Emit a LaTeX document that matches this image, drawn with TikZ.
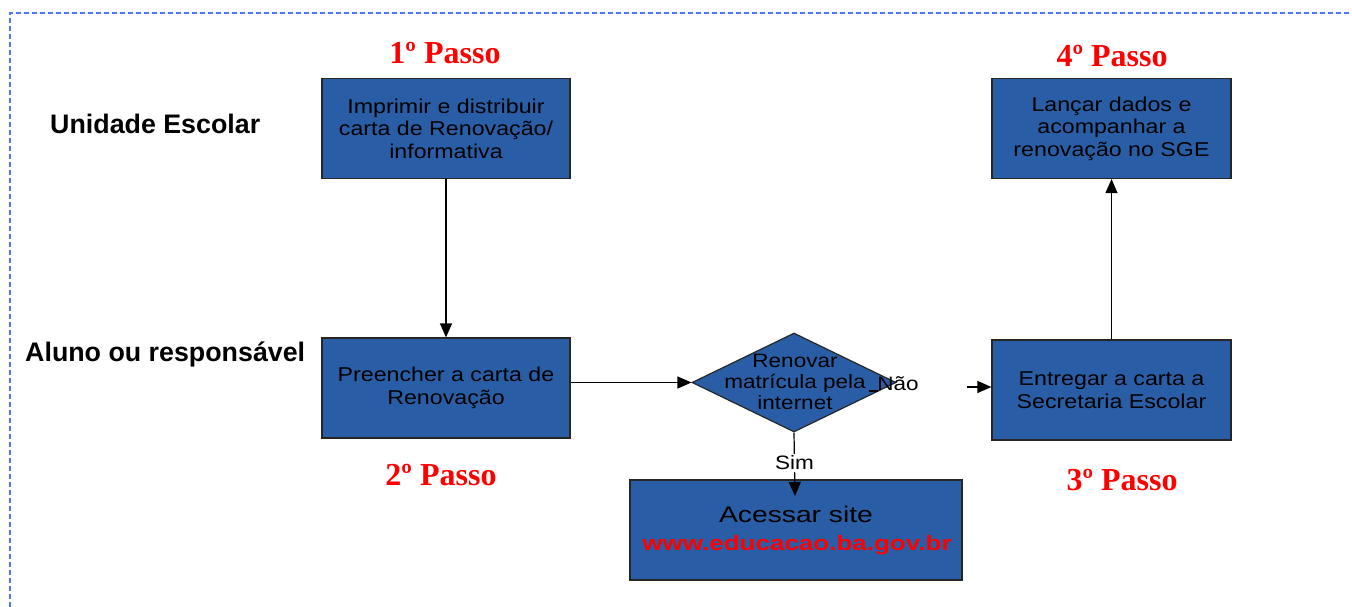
\documentclass[tikz,border=0pt]{standalone}
\usepackage{fontspec}
\setmainfont{Liberation Sans}
\newfontfamily\widesans[FakeStretch=1.16]{Liberation Sans}
\newfontfamily\widersans[FakeStretch=1.25]{Liberation Sans}
\newfontfamily\headsans{Liberation Sans}
\newfontfamily\passoserif{Liberation Serif}
\usetikzlibrary{arrows.meta,shapes.geometric}
\definecolor{boxblue}{RGB}{41,94,166}
\definecolor{dashblue}{RGB}{80,120,245}
\definecolor{passred}{RGB}{255,0,0}
\begin{document}
\begin{tikzpicture}[x=1pt,y=-1pt,
  stepbox/.style={draw=black!85,line width=1.2pt,fill=boxblue,minimum width=#1,minimum height=100pt,inner sep=0pt,align=center,font=\widesans\fontsize{20}{22.5}\selectfont},
  lanelabel/.style={anchor=base west,inner sep=0pt,font=\headsans\bfseries\fontsize{26.8}{30}\selectfont},
  passolabel/.style={anchor=base,inner sep=0pt,text=passred,font=\passoserif\bfseries\fontsize{32}{36}\selectfont},
  smalltext/.style={inner sep=0pt,font=\widesans\fontsize{19.4}{21}\selectfont},
  arr/.style={draw=black,line width=1.2pt,-{Triangle[length=14pt,width=12pt]}},
  plainline/.style={draw=black,line width=1.2pt}
]
\useasboundingbox (0,0) rectangle (1352,607);
% dashed frame
\draw[dashblue,line width=2pt,dash pattern=on 5pt off 3pt] (10,607) -- (10,13) -- (1352,13);

% lane labels
\node[lanelabel] (lane1) at (50,134) {Unidade Escolar};
\node[lanelabel] (lane2) at (25,361) {Aluno ou responsável};

% step labels
\node[passolabel] (p1) at (445,64) {1º Passo};
\node[passolabel] (p2) at (441,485) {2º Passo};
\node[passolabel] (p3) at (1122,490) {3º Passo};
\node[passolabel] (p4) at (1112,67) {4º Passo};

% boxes
\node[stepbox=248pt] (b1) at (446,128.5) {Imprimir e distribuir\\carta de Renovação/\\informativa};
\node[stepbox=248pt] (b2) at (446,388) {Preencher a carta de\\Renovação};
\node[stepbox=239pt] (b3) at (1111.5,390) {Entregar a carta a\\Secretaria Escolar};
\node[stepbox=239pt] (b4) at (1111.5,128.5) {Lançar dados e\\acompanhar a\\renovação no SGE};
\node[stepbox=332pt] (b5) at (796,530) {};
\node[anchor=base,inner sep=0pt,font=\widersans\fontsize{22.6}{26}\selectfont] (acc) at (796,522) {Acessar site};
\node[anchor=base,inner sep=0pt,text=passred,font=\widersans\bfseries\fontsize{20.8}{24}\selectfont] (url) at (797,550) {www.educacao.ba.gov.br};

% decision
\node[diamond,draw=black!85,line width=1.2pt,fill=boxblue,minimum width=204pt,minimum height=99pt,inner sep=0pt] (d) at (794,382.5) {};
\node[smalltext,align=center] (dt) at (795,382) {Renovar\\matrícula pela\\internet};

% connectors
\draw[arr] (b1.south) -- (b2.north);
\draw[arr] (b2.east |- d.west) -- (d.west);
\coordinate (simend) at (795,496);
\draw[arr] (d.south) -- node[smalltext,fill=white,inner sep=1.5pt,pos=0.48] (sim) {Sim} (simend);
\coordinate (naoA) at (869,391);
\coordinate (naoB) at (878,391);
\draw[plainline] (naoA) -- (naoB);
\node[smalltext,anchor=base] (nao) at (898,390) {Não};
\coordinate (nstart) at (967,387);
\draw[arr] (nstart) -- (b3.west |- nstart);
\draw[arr] (b3.north) -- (b4.south);
\end{tikzpicture}
\end{document}
